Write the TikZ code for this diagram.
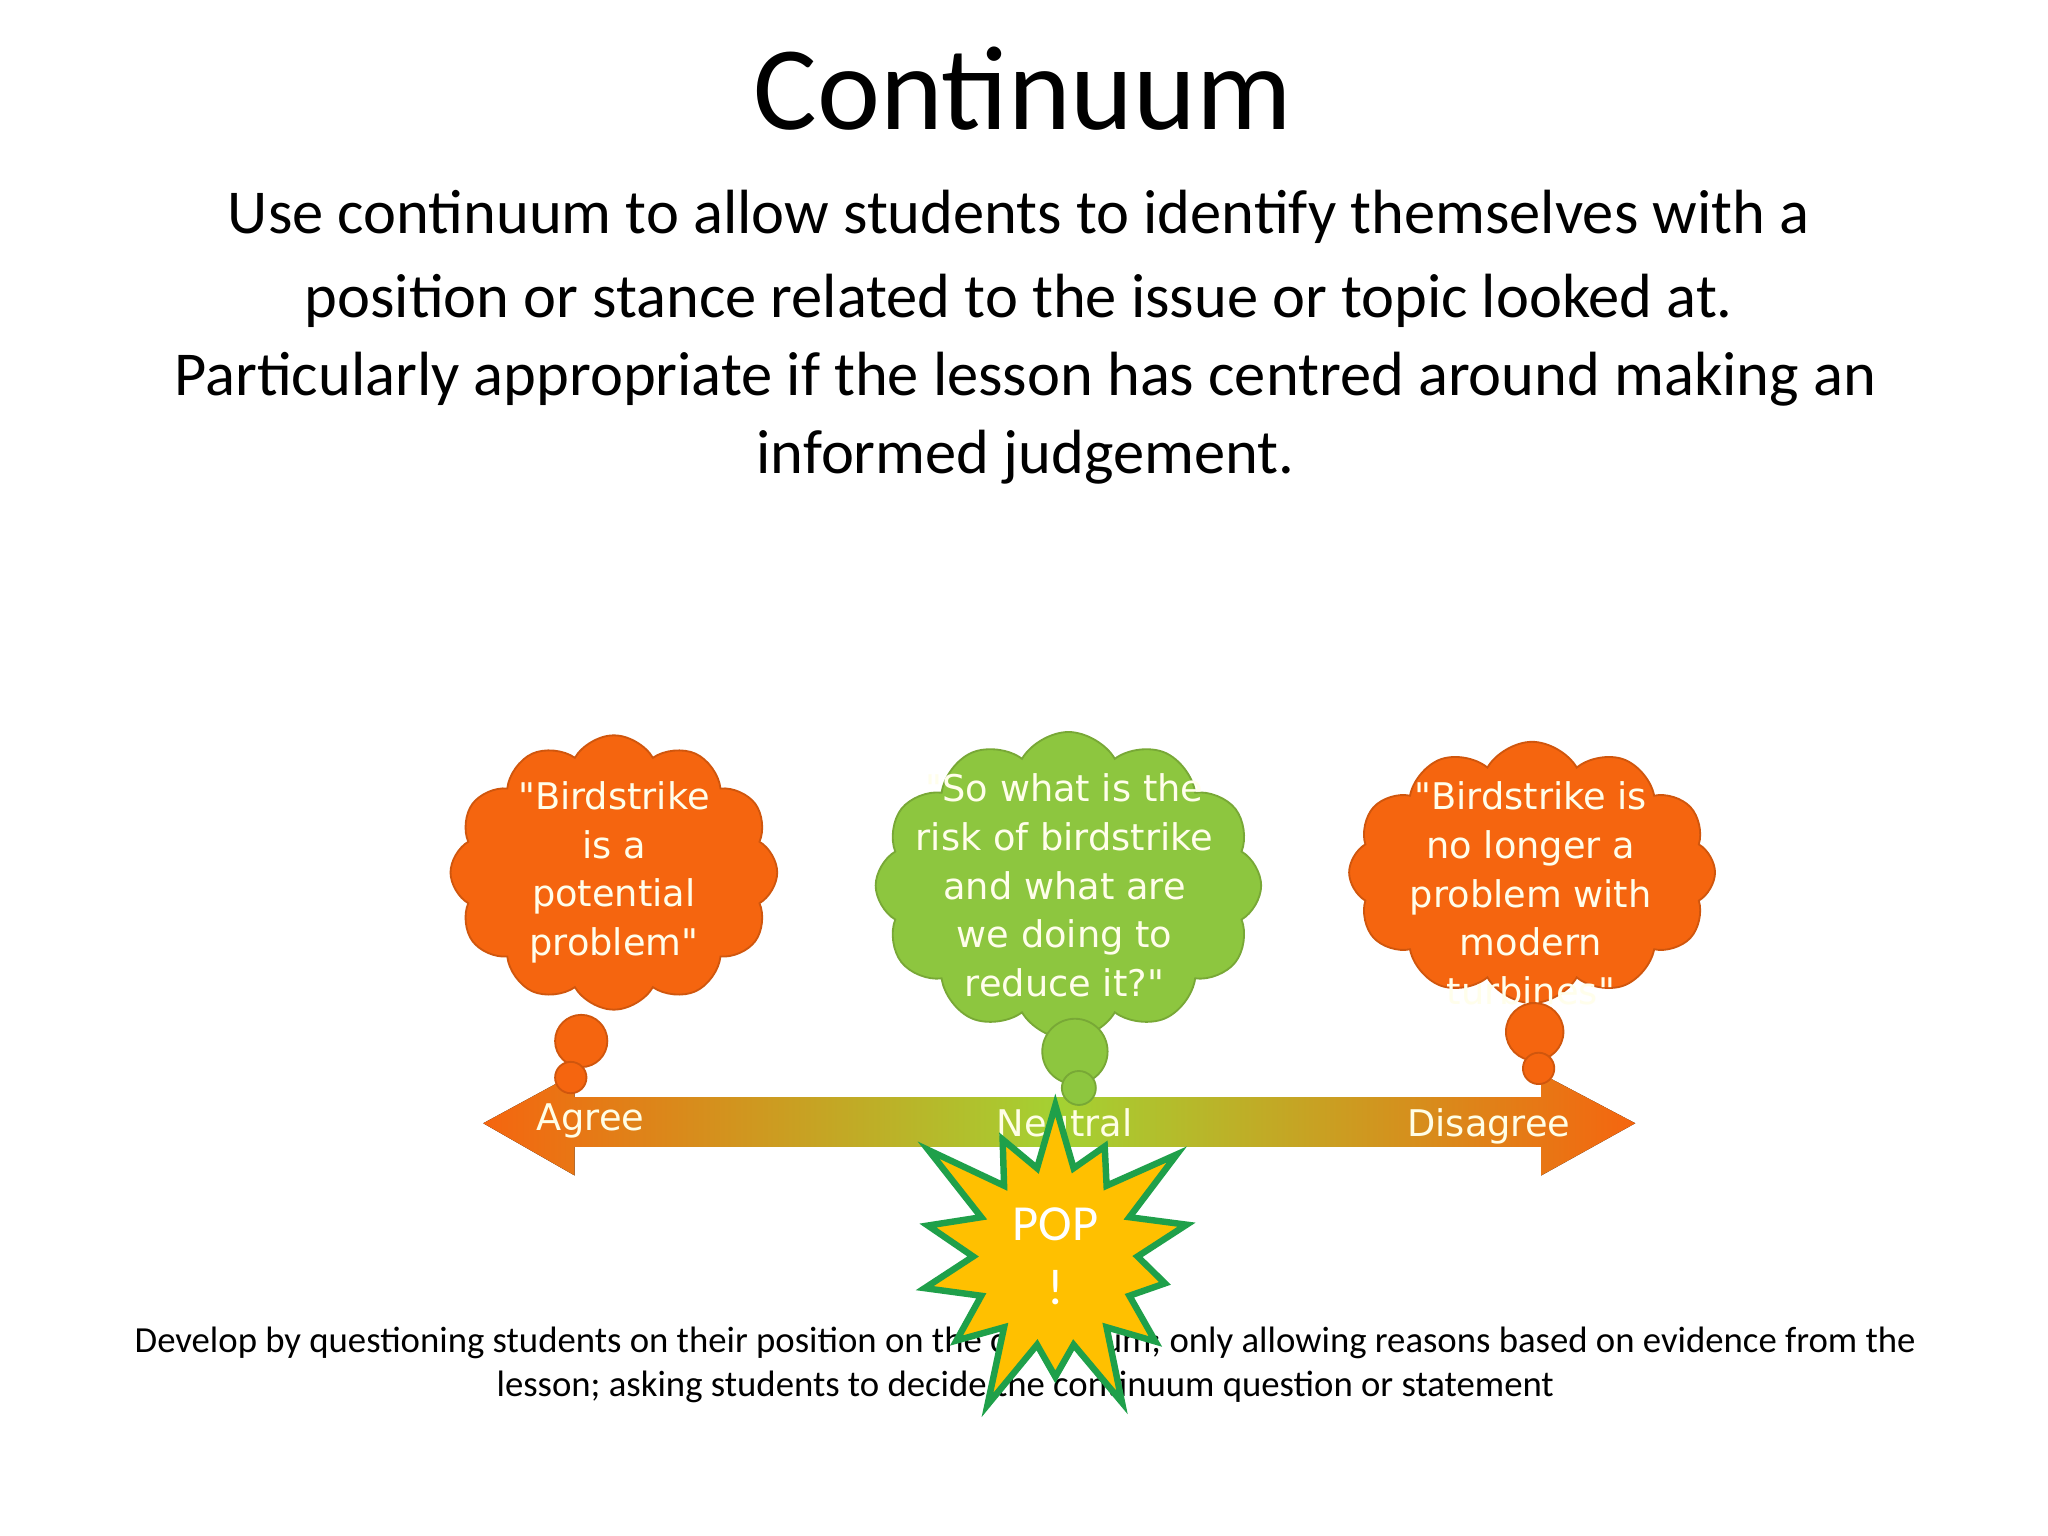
\documentclass[tikz,border=0pt]{standalone}
\usepackage{fontspec}
\setmainfont{Carlito}
\newfontfamily\cloudfont{DejaVu Sans}
\usetikzlibrary{shapes.symbols}
\definecolor{orng}{HTML}{F5650F}
\definecolor{grn}{HTML}{8DC63F}
\definecolor{popfill}{HTML}{FFC000}
\definecolor{popline}{HTML}{1FA04A}
\tikzset{
 cloudbox/.style={cloud, cloud puffs=12, cloud puff arc=120, aspect=1.2, draw=#1!85!black, fill=#1, inner sep=0pt},
 cloudtext/.style={text=white!92!yellow, font=\cloudfont\fontsize{8pt}{10.6pt}\selectfont, align=center, inner sep=0pt},
 bubble/.style={circle, draw=#1!85!black, fill=#1, inner sep=0pt},
 axislabel/.style={text=white!90!yellow, font=\cloudfont\fontsize{8pt}{10pt}\selectfont},
 body/.style={align=center, font=\fontsize{13.6pt}{17pt}\selectfont}
}
\begin{document}
\begin{tikzpicture}[x=0.01cm,y=-0.01cm]
\useasboundingbox (0,0) rectangle (1568,1176);
\fill[white] (0,0) rectangle (1568,1176);
\node[font=\fontsize{26pt}{30pt}\selectfont] (title) at (783,68) {Continuum};
\node[body] (l1) at (780,166) {Use continuum to allow students to identify themselves with a};
\node[body] (l2) at (780,230) {position or stance related to the issue or topic looked at.};
\node[body] (l3) at (785,320) {Particularly appropriate if the lesson has centred around making an\\informed judgement.};
% clouds
\node[cloudbox=orng, minimum width=2.5cm, minimum height=2.1cm] (c1) at (470,668) {};
\node[cloudtext] (t1) at (c1) {"Birdstrike\\is a\\potential\\problem"};
\node[cloudbox=grn, minimum width=2.95cm, minimum height=2.35cm] (c2) at (818,678) {};
\node[cloudtext] (t2) at (815,678) {"So what is the\\risk of birdstrike\\and what are\\we doing to\\reduce it?"};
\node[cloudbox=orng, minimum width=2.8cm, minimum height=2.0cm] (c3) at (1173,668) {};
\node[cloudtext] (t3) at (1172,684) {"Birdstrike is\\no longer a\\problem with\\modern\\turbines"};
% arrow
\fill[left color=orng, right color=orng, middle color=grn!80!yellow]
 (370,860) -- (440,822) -- (440,840) -- (1180,840) -- (1180,822) -- (1252,860)
 -- (1180,900) -- (1180,878) -- (440,878) -- (440,900) -- cycle;
\node[axislabel] (agree) at (452,858) {Agree};
\node[axislabel] (neutral) at (815,860) {Neutral};
\node[axislabel] (disagree) at (1140,862) {Disagree};
\node[bubble=orng, minimum size=0.4cm] (b1) at (445,797) {};
\node[bubble=orng, minimum size=0.24cm] (b1s) at (437,825) {};
\node[bubble=grn, minimum size=0.5cm] (b2) at (823,805) {};
\node[bubble=grn, minimum size=0.26cm] (b2s) at (826,833) {};
\node[bubble=orng, minimum size=0.44cm] (b3) at (1175,790) {};
\node[bubble=orng, minimum size=0.24cm] (b3s) at (1178,818) {};
% bottom text
\node[align=center, font=\fontsize{8pt}{9.6pt}\selectfont] (dev) at (785,1045) {Develop by questioning students on their position on the continuum; only allowing reasons based on evidence from the\\lesson; asking students to decide the continuum question or statement};
% starburst
\node[starburst, starburst points=14, starburst point height=0.65cm, fill=popfill, draw=popline, line width=1.4pt, minimum width=2.25cm, minimum height=2.15cm, text=white, align=center, font=\fontsize{11pt}{14pt}\selectfont] (pop) at (808,962) {POP\\!};
\end{tikzpicture}
\end{document}
